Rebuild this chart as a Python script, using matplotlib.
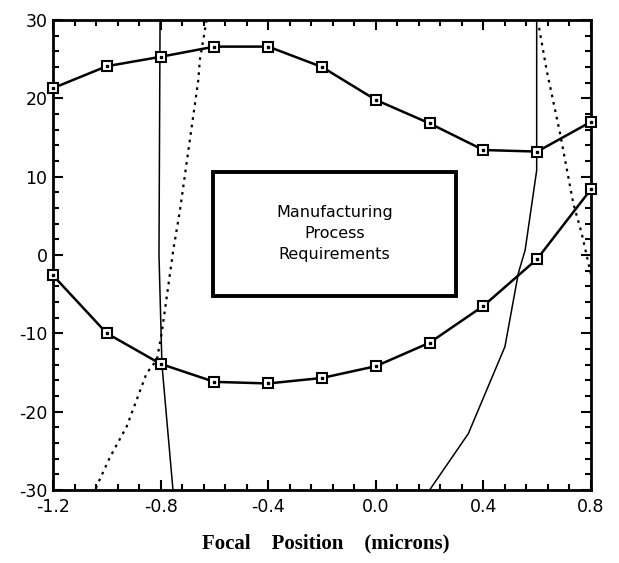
import matplotlib.pyplot as plt
from matplotlib.ticker import MultipleLocator
from matplotlib.patches import Rectangle

plt.rcParams['axes.unicode_minus'] = False

# measured series (square markers)
focus = [-1.2, -1.0, -0.8, -0.6, -0.4, -0.2, 0.0, 0.2, 0.4, 0.6, 0.8]
upper = [21.3, 24.1, 25.3, 26.6, 26.6, 24.0, 19.8, 16.8, 13.4, 13.2, 17.0]
lower = [-2.6, -10.0, -13.9, -16.2, -16.4, -15.7, -14.2, -11.2, -6.5, -0.5, 8.4]

# thin solid boundary curves
left_solid_x = [-0.802, -0.806, -0.795, -0.754]
left_solid_y = [30, 0, -14, -30]
right_solid_x = [0.2, 0.344, 0.48, 0.53, 0.555, 0.598, 0.598]
right_solid_y = [-30, -22.8, -11.7, -2.3, 0.6, 10.8, 30]

# dotted boundary curves
left_dot_x = [-0.629, -0.654, -0.66, -0.728, -0.753, -0.796, -0.814, -0.852, -0.926, -0.988, -1.044]
left_dot_y = [30, 24.9, 22.3, 5.7, 0.6, -10.0, -13.4, -15.1, -21.9, -25.8, -30]
right_dot_x = [0.607, 0.635, 0.685, 0.734, 0.765, 0.8]
right_dot_y = [29.0, 23.6, 15.5, 6.6, 2.8, -2.5]

fig = plt.figure(figsize=(6.19, 5.63), dpi=100)
ax = fig.add_axes([0.0856, 0.1297, 0.8692, 0.8348])

ax.plot(left_solid_x, left_solid_y, color='black', lw=1.1)
ax.plot(right_solid_x, right_solid_y, color='black', lw=1.1)
ax.plot(left_dot_x, left_dot_y, color='black', lw=1.6, ls=(0, (1.2, 2.2)))
ax.plot(right_dot_x, right_dot_y, color='black', lw=1.6, ls=(0, (1.2, 2.2)))

for ys in (upper, lower):
    ax.plot(focus, ys, color='black', lw=1.8, marker='s', ms=6.5,
            mfc='white', mec='black', mew=1.5, clip_on=False, zorder=3)
    ax.plot(focus, ys, ls='none', marker='s', ms=1.5, color='black',
            clip_on=False, zorder=4)

box = Rectangle((-0.604, -5.25), 0.902, 15.88, fill=False, lw=2.8,
                edgecolor='black', zorder=2)
ax.add_patch(box)
ax.text(-0.153, 2.7, 'Manufacturing\nProcess\nRequirements', ha='center',
        va='center', fontsize=11.5, linespacing=1.5, family='DejaVu Sans')

ax.set_xlim(-1.2, 0.8)
ax.set_ylim(-30, 30)
ax.set_xticks([-1.2, -0.8, -0.4, 0.0, 0.4, 0.8])
ax.set_xticklabels(['-1.2', '-0.8', '-0.4', '0.0', '0.4', '0.8'])
ax.set_yticks([-30, -20, -10, 0, 10, 20, 30])
ax.xaxis.set_minor_locator(MultipleLocator(0.08))
ax.yaxis.set_minor_locator(MultipleLocator(2))
ax.tick_params(which='both', direction='in', top=True, right=True,
               labelsize=12.5, width=1.5)
ax.tick_params(which='major', length=7)
ax.tick_params(axis='x', which='major', pad=6)
ax.tick_params(axis='y', which='major', pad=4)
ax.tick_params(which='minor', length=4)
for s in ax.spines.values():
    s.set_linewidth(2)

fig.text(0.527, 0.035, 'Focal    Position    (microns)', ha='center', va='center',
         fontsize=15, fontweight='bold', family='Liberation Serif')

fig.savefig('out.png', dpi=100)
